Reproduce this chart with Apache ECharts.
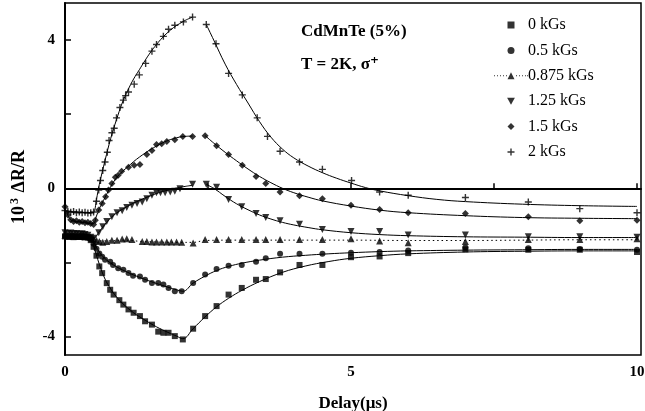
<!DOCTYPE html>
<html>
<head>
<meta charset="utf-8">
<script src="https://cdn.jsdelivr.net/npm/echarts@6/dist/echarts.min.js"></script>
<style>
  html, body { margin: 0; padding: 0; background: #fff; }
  #chart { width: 645px; height: 411px; }
</style>
</head>
<body>
<div id="chart"></div>
<script>
// Transient reflectivity of CdMnTe (5%) at T = 2K, sigma+ excitation.
// Measured points: [delay (µs), 10^3 ΔR/R].
const fields = ['0 kGs', '0.5 kGs', '0.875 kGs', '1.25 kGs', '1.5 kGs', '2 kGs'];

const field0 = [[0,-1.30],[0.05,-1.31],[0.1,-1.29],[0.15,-1.32],[0.2,-1.30],[0.25,-1.31],[0.3,-1.29],[0.35,-1.32],[0.4,-1.33],[0.45,-1.40],[0.5,-1.58],[0.55,-1.82],[0.6,-2.11],[0.65,-2.29],[0.73,-2.56],[0.79,-2.74],[0.85,-2.87],[0.95,-3.02],[1.02,-3.14],[1.11,-3.27],[1.2,-3.36],[1.31,-3.45],[1.4,-3.59],[1.52,-3.68],[1.63,-3.87],[1.72,-3.9],[1.81,-3.9],[1.92,-3.99],[2.06,-4.08],[2.24,-3.79],[2.45,-3.45],[2.65,-3.18],[2.86,-2.87],[3.09,-2.69],[3.34,-2.47],[3.51,-2.45],[3.76,-2.27],[4.1,-2.07],[4.5,-2.07],[5,-1.86],[5.5,-1.84],[6,-1.75],[7,-1.65],[8.1,-1.66],[9,-1.66],[10,-1.72]];

const field05 = [[0,-1.28],[0.05,-1.30],[0.1,-1.31],[0.15,-1.29],[0.2,-1.31],[0.25,-1.30],[0.3,-1.32],[0.35,-1.30],[0.4,-1.33],[0.45,-1.38],[0.5,-1.50],[0.55,-1.63],[0.6,-1.76],[0.65,-1.85],[0.7,-1.93],[0.79,-1.98],[0.84,-2.07],[0.93,-2.16],[1.02,-2.2],[1.11,-2.29],[1.19,-2.36],[1.31,-2.38],[1.4,-2.47],[1.52,-2.56],[1.63,-2.56],[1.72,-2.6],[1.81,-2.69],[1.92,-2.78],[2.04,-2.78],[2.24,-2.56],[2.45,-2.33],[2.65,-2.18],[2.86,-2.09],[3.09,-2.07],[3.34,-1.98],[3.51,-1.89],[3.76,-1.77],[4.1,-1.77],[4.5,-1.77],[5,-1.74],[5.5,-1.72],[6,-1.68],[7,-1.6],[8.1,-1.62],[9,-1.64],[10,-1.66]];

const field0875 = [[0,-1.27],[0.05,-1.29],[0.1,-1.28],[0.15,-1.30],[0.2,-1.29],[0.25,-1.30],[0.3,-1.29],[0.35,-1.31],[0.4,-1.30],[0.45,-1.32],[0.5,-1.36],[0.55,-1.40],[0.6,-1.44],[0.66,-1.46],[0.73,-1.44],[0.82,-1.40],[0.91,-1.40],[1.0,-1.37],[1.08,-1.36],[1.17,-1.38],[1.35,-1.44],[1.43,-1.44],[1.52,-1.45],[1.6,-1.45],[1.69,-1.45],[1.78,-1.45],[1.86,-1.45],[1.95,-1.45],[2.04,-1.46],[2.24,-1.48],[2.45,-1.38],[2.65,-1.38],[2.86,-1.38],[3.09,-1.38],[3.34,-1.38],[3.51,-1.38],[3.76,-1.38],[4.1,-1.38],[4.5,-1.38],[5,-1.36],[5.5,-1.42],[6,-1.47],[7,-1.44],[8.1,-1.38],[9,-1.38],[10,-1.36]];

const field125 = [[0,-1.20],[0.05,-1.22],[0.1,-1.21],[0.15,-1.23],[0.2,-1.22],[0.25,-1.24],[0.3,-1.23],[0.35,-1.25],[0.4,-1.27],[0.45,-1.32],[0.5,-1.35],[0.59,-1.2],[0.66,-1.04],[0.73,-0.9],[0.82,-0.77],[0.91,-0.66],[1.0,-0.61],[1.08,-0.52],[1.17,-0.46],[1.26,-0.41],[1.35,-0.37],[1.43,-0.28],[1.52,-0.19],[1.6,-0.12],[1.67,-0.12],[1.75,-0.12],[1.84,-0.1],[1.92,-0.08],[2.01,-0.01],[2.23,0.11],[2.47,0.11],[2.65,0.03],[2.86,-0.3],[3.09,-0.5],[3.34,-0.68],[3.51,-0.79],[3.76,-0.88],[4.1,-0.97],[4.5,-1.11],[5,-1.17],[5.5,-1.17],[6,-1.26],[7,-1.26],[8.1,-1.31],[9,-1.31],[10,-1.32]];

const field15 = [[0,-0.5],[0.05,-0.72],[0.1,-0.85],[0.15,-0.9],[0.2,-0.88],[0.25,-0.92],[0.3,-0.9],[0.35,-0.93],[0.4,-0.92],[0.45,-0.95],[0.5,-0.98],[0.53,-0.86],[0.59,-0.59],[0.65,-0.41],[0.71,-0.23],[0.76,-0.05],[0.82,0.13],[0.88,0.3],[0.93,0.35],[0.99,0.46],[1.11,0.57],[1.21,0.62],[1.31,0.64],[1.43,0.91],[1.52,1.02],[1.6,1.18],[1.69,1.2],[1.78,1.26],[1.92,1.31],[2.06,1.4],[2.23,1.4],[2.45,1.42],[2.65,1.15],[2.86,0.91],[3.1,0.62],[3.34,0.32],[3.51,0.13],[3.76,-0.1],[4.1,-0.2],[4.5,-0.28],[5,-0.46],[5.5,-0.57],[6,-0.66],[7,-0.68],[8.1,-0.77],[9,-0.88],[10,-0.86]];

const field2 = [[0,-0.6],[0.05,-0.62],[0.1,-0.65],[0.15,-0.63],[0.2,-0.66],[0.25,-0.64],[0.3,-0.66],[0.35,-0.65],[0.4,-0.67],[0.45,-0.66],[0.5,-0.64],[0.55,-0.35],[0.59,-0.05],[0.62,0.21],[0.66,0.48],[0.7,0.71],[0.74,0.97],[0.77,1.29],[0.82,1.5],[0.86,1.62],[0.9,1.9],[0.96,2.18],[1.02,2.38],[1.06,2.5],[1.11,2.6],[1.21,2.81],[1.3,3.06],[1.41,3.37],[1.52,3.7],[1.6,3.88],[1.72,4.1],[1.81,4.29],[1.92,4.4],[2.07,4.49],[2.23,4.62],[2.47,4.42],[2.64,3.9],[2.86,3.1],[3.1,2.52],[3.36,1.9],[3.54,1.4],[3.76,1.0],[4.1,0.71],[4.5,0.51],[5.01,0.21],[5.5,-0.1],[6,-0.19],[7,-0.25],[8.1,-0.37],[9,-0.55],[10,-0.66]];

// Fitted curves: [delay (µs), 10^3 ΔR/R]; null separates the pump-on and decay segments.
const fit0 = [[0,-1.3],[0.45,-1.3],[0.5,-1.55],[0.6,-2.05],[0.7,-2.45],[0.8,-2.72],[0.9,-2.93],[1.0,-3.1],[1.2,-3.36],[1.4,-3.56],[1.6,-3.74],[1.8,-3.89],[1.95,-3.99],[2.06,-4.06],[2.24,-3.79],[2.45,-3.47],[2.65,-3.2],[2.86,-2.97],[3.1,-2.75],[3.4,-2.52],[3.8,-2.27],[4.2,-2.1],[4.6,-1.98],[5,-1.89],[5.5,-1.82],[6,-1.77],[7,-1.72],[8,-1.7],[9,-1.69],[10,-1.69]];
const fit05 = [[0,-1.3],[0.45,-1.3],[0.5,-1.45],[0.6,-1.72],[0.7,-1.9],[0.8,-2.02],[0.9,-2.12],[1.0,-2.2],[1.2,-2.34],[1.4,-2.46],[1.6,-2.57],[1.8,-2.67],[1.95,-2.74],[2.06,-2.78],[2.24,-2.56],[2.45,-2.37],[2.65,-2.22],[2.86,-2.11],[3.1,-2.02],[3.4,-1.94],[3.8,-1.86],[4.2,-1.81],[4.6,-1.77],[5,-1.74],[5.5,-1.71],[6,-1.69],[7,-1.67],[8,-1.66],[9,-1.65],[10,-1.65]];
const fit0875 = [[0,-1.3],[0.45,-1.31],[0.6,-1.42],[0.8,-1.42],[1.0,-1.4],[1.4,-1.44],[2.0,-1.46],[2.24,-1.46],[2.45,-1.41],[3,-1.4],[4,-1.4],[5,-1.4],[6,-1.41],[7,-1.41],[8,-1.4],[9,-1.39],[10,-1.39]];
const fit125 = [[0,-1.25],[0.45,-1.27],[0.5,-1.35],[0.6,-1.17],[0.7,-0.97],[0.8,-0.8],[0.9,-0.67],[1.0,-0.57],[1.1,-0.48],[1.2,-0.4],[1.3,-0.33],[1.4,-0.26],[1.5,-0.2],[1.6,-0.14],[1.7,-0.09],[1.8,-0.05],[1.9,-0.01],[2.0,0.02],[2.1,0.05],[2.23,0.08],null,[2.47,0.1],[2.6,0.0],[2.8,-0.22],[3.0,-0.42],[3.2,-0.58],[3.4,-0.72],[3.6,-0.83],[3.8,-0.92],[4.0,-0.99],[4.25,-1.06],[4.5,-1.12],[5,-1.2],[5.5,-1.25],[6,-1.28],[7,-1.31],[8,-1.32],[9,-1.33],[10,-1.33]];
const fit15 = [[0,-0.55],[0.1,-0.85],[0.2,-0.9],[0.3,-0.92],[0.45,-0.95],[0.5,-0.95],[0.55,-0.75],[0.6,-0.55],[0.7,-0.25],[0.8,0.05],[0.9,0.28],[1.0,0.45],[1.1,0.58],[1.2,0.72],[1.3,0.84],[1.4,0.95],[1.5,1.05],[1.6,1.14],[1.7,1.22],[1.8,1.29],[1.9,1.34],[2.0,1.38],[2.1,1.4],[2.23,1.41],null,[2.45,1.42],[2.6,1.22],[2.8,0.97],[3.0,0.74],[3.2,0.52],[3.4,0.32],[3.6,0.15],[3.8,0.0],[4.0,-0.12],[4.25,-0.24],[4.5,-0.34],[5,-0.48],[5.5,-0.59],[6,-0.66],[7,-0.74],[8,-0.79],[9,-0.81],[10,-0.82]];
const fit2 = [[0,-0.62],[0.45,-0.66],[0.5,-0.65],[0.55,-0.3],[0.6,0.1],[0.7,0.75],[0.8,1.35],[0.9,1.85],[1.0,2.3],[1.1,2.65],[1.2,2.95],[1.3,3.2],[1.4,3.45],[1.5,3.68],[1.6,3.88],[1.7,4.06],[1.8,4.21],[1.9,4.34],[2.0,4.44],[2.1,4.53],[2.23,4.62],null,[2.47,4.42],[2.6,4.0],[2.8,3.35],[3.0,2.8],[3.2,2.3],[3.4,1.8],[3.6,1.38],[3.8,1.06],[4.0,0.82],[4.25,0.6],[4.5,0.42],[4.75,0.27],[5.0,0.14],[5.25,0.02],[5.5,-0.07],[6,-0.2],[6.5,-0.3],[7,-0.36],[8,-0.43],[9,-0.47],[10,-0.49]];

const xTicks = [0, 2.5, 5, 7.5, 10];
const xLabels = [0, 5, 10];
const yTicks = [-4, -2, 0, 2, 4];
const yLabels = [-4, 0, 4];

const SERIF = '"Liberation Serif", "DejaVu Serif", serif';
const PLUS = 'path://M4,0H6V4H10V6H6V10H4V6H0V4H4Z';
const SQUARE = 'path://M0,0H10V10H0Z';
const CIRCLE = 'path://M5,0A5,5,0,1,1,5,10A5,5,0,1,1,5,0Z';
const TRI_DOWN = 'path://M0,0H10L5,9Z';
const DIAMOND = 'path://M5,0L10,5L5,10L0,5Z';
// legend key for the dotted trace: a row of dots with a triangle in the middle
const DOTTED_TRI = 'path://M0,3H1V4H0Z M3,3H4V4H3Z M6,3H7V4H6Z M9,3H10V4H9Z M12,3H13V4H12Z'
  + ' M13.5,7L17,0L20.5,7Z'
  + ' M22,3H23V4H22Z M25,3H26V4H25Z M28,3H29V4H28Z M31,3H32V4H31Z M33,3H34V4H33Z';

function points(name, data, symbol, size, extra) {
  return Object.assign({
    name: name,
    type: 'scatter',
    data: data,
    symbol: symbol,
    symbolSize: size,
    itemStyle: { color: '#000' },
    emphasis: { disabled: true },
    silent: true,
    animation: false,
    z: 4
  }, extra || {});
}

function curve(name, data, dashed) {
  return {
    name: name + ' fit',
    type: 'line',
    data: data,
    smooth: 0.4,
    connectNulls: false,
    symbol: 'none',
    lineStyle: { color: '#000', width: 1, type: dashed ? [1.5, 3] : 'solid' },
    emphasis: { disabled: true },
    silent: true,
    animation: false,
    z: 3
  };
}

const chart = echarts.init(document.getElementById('chart'), null, { renderer: 'canvas' });

chart.setOption({
  backgroundColor: '#fff',
  animation: false,
  textStyle: { fontFamily: SERIF, color: '#000' },
  grid: {
    left: 65, right: 4, top: 3, bottom: 56,
    outerBoundsMode: 'none',
    containLabel: false,
    show: true, borderColor: '#000', borderWidth: 1.5, backgroundColor: 'transparent'
  },
  title: [
    { text: 'CdMnTe (5%)', left: 301, top: 23, padding: 0,
      textStyle: { fontFamily: SERIF, fontWeight: 'bold', fontSize: 17, color: '#000' } },
    { text: 'T = 2K, σ⁺', left: 301, top: 56, padding: 0,
      textStyle: { fontFamily: SERIF, fontWeight: 'bold', fontSize: 17, color: '#000' } }
  ],
  legend: {
    orient: 'vertical',
    left: 494,
    top: 17,
    padding: 0,
    itemWidth: 34,
    itemHeight: 7,
    itemGap: 9.4,
    selectedMode: false,
    symbolKeepAspect: true,
    textStyle: { fontFamily: SERIF, fontSize: 16, color: '#000', lineHeight: 16, padding: [0, 0, 0, -5] },
    data: [
      { name: fields[0], icon: SQUARE },
      { name: fields[1], icon: CIRCLE },
      { name: fields[2], icon: DOTTED_TRI },
      { name: fields[3], icon: TRI_DOWN },
      { name: fields[4], icon: DIAMOND },
      { name: fields[5], icon: PLUS }
    ]
  },
  xAxis: {
    type: 'value',
    min: 0,
    max: 10.07,
    name: 'Delay(μs)',
    nameLocation: 'middle',
    nameGap: 40,
    nameTextStyle: { fontFamily: SERIF, fontWeight: 'bold', fontSize: 17, color: '#000' },
    axisLine: { show: true, lineStyle: { color: '#000', width: 2 } },
    axisTick: { show: true, inside: true, length: 5, customValues: xTicks, lineStyle: { color: '#000', width: 1.5 } },
    axisLabel: { customValues: xLabels, margin: 10, fontFamily: SERIF, fontWeight: 'bold', fontSize: 15, color: '#000' },
    splitLine: { show: false }
  },
  yAxis: {
    type: 'value',
    min: -4.5,
    max: 5,
    name: '10{sup|3} ΔR/R',
    nameLocation: 'middle',
    nameGap: 36,
    nameTextStyle: {
      fontFamily: SERIF, fontWeight: 'bold', fontSize: 18, color: '#000', padding: [0, 16, 0, 0],
      rich: { sup: { fontFamily: SERIF, fontWeight: 'bold', fontSize: 12, verticalAlign: 'top', padding: [0, 1, 8, 2] } }
    },
    axisLine: { show: true, lineStyle: { color: '#000', width: 2 } },
    axisTick: { show: true, inside: true, length: 6, customValues: yTicks, lineStyle: { color: '#000', width: 1.5 } },
    axisLabel: { customValues: yLabels, margin: 10, fontFamily: SERIF, fontWeight: 'bold', fontSize: 15, color: '#000' },
    splitLine: { show: false }
  },
  series: [
    curve(fields[0], fit0),
    curve(fields[1], fit05),
    curve(fields[2], fit0875, true),
    curve(fields[3], fit125),
    curve(fields[4], fit15),
    Object.assign(curve(fields[5], fit2), {
      markLine: {
        silent: true,
        symbol: 'none',
        label: { show: false },
        lineStyle: { color: '#000', type: 'solid', width: 1.2 },
        data: [{ yAxis: 0 }],
        animation: false
      }
    }),
    points(fields[0], field0, 'rect', 6),
    points(fields[1], field05, 'circle', 6),
    points(fields[2], field0875, 'triangle', 7),
    points(fields[3], field125, 'triangle', 7, { symbolRotate: 180 }),
    points(fields[4], field15, 'diamond', 7),
    points(fields[5], field2, PLUS, 7)
  ]
});
</script>
</body>
</html>
